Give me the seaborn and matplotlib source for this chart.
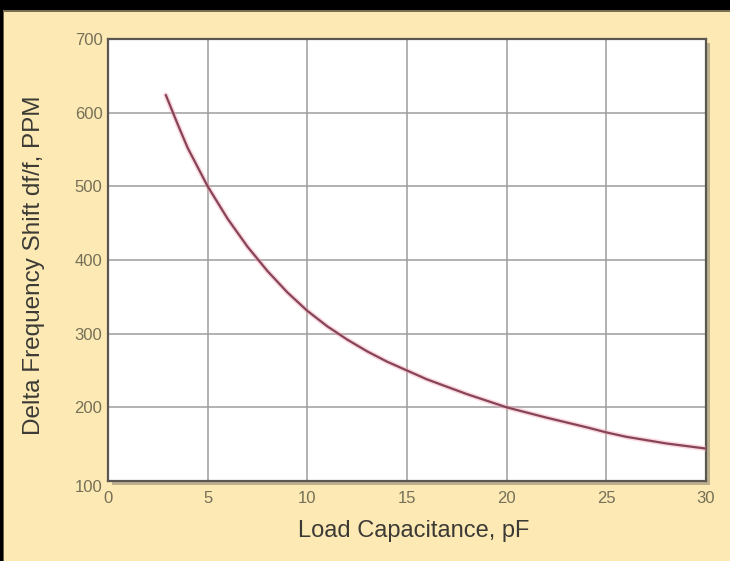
import matplotlib
matplotlib.use("Agg")
import matplotlib.pyplot as plt
import matplotlib.patches as mpatches
import matplotlib.transforms as mtransforms
import seaborn as sns
import pandas as pd

# Data
load_capacitance_pf = [2.9, 3.2, 3.5, 4.0, 5.0, 6.0, 7.0, 8.0, 9.0, 10.0, 11.0,
                       12.0, 13.0, 14.0, 15.0, 16.0, 17.0, 18.0, 19.0, 20.0,
                       22.0, 24.0, 25.0, 26.0, 28.0, 30.0]
delta_shift_ppm = [624, 604, 584, 552, 500, 456, 418, 385, 356, 331, 310,
                   292, 276, 262, 250, 238, 228, 218, 209, 200,
                   186, 173, 166, 160, 151, 144]
x_ticks = [0, 5, 10, 15, 20, 25, 30]
y_ticks = [100, 200, 300, 400, 500, 600, 700]

df = pd.DataFrame({"C": load_capacitance_pf, "S": delta_shift_ppm})

sns.set_theme(style="white")
plt.rcParams['font.family'] = ['Liberation Sans', 'DejaVu Sans']

BG = "#fde9b4"
fig = plt.figure(figsize=(7.30, 5.61), dpi=100, facecolor=BG)

W, H = 730, 561
x0, x1 = 108, 706
y_top, y_bot = 39, 481
ax = fig.add_axes([x0 / W, 1 - y_bot / H, (x1 - x0) / W, (y_bot - y_top) / H])
ax.set_facecolor("white")

# drop shadow behind the plot frame
shadow = mpatches.Rectangle(((x0 + 4) / W, 1 - (y_bot + 4) / H), (x1 - x0) / W,
                            (y_bot - y_top) / H, transform=fig.transFigure,
                            facecolor="#8a8270", edgecolor="none", alpha=0.55,
                            zorder=-1)
fig.patches.append(shadow)

# top black band and left dark strip
fig.patches.append(mpatches.Rectangle((0, 1 - 10 / H), 1, 10 / H,
                                      transform=fig.transFigure,
                                      facecolor="black", edgecolor="none", zorder=5))
fig.patches.append(mpatches.Rectangle((0, 0), 3 / W, 1,
                                      transform=fig.transFigure,
                                      facecolor="black", edgecolor="none", zorder=5))
fig.patches.append(mpatches.Rectangle((3 / W, 0), 1.5 / W, 1 - 10 / H,
                                      transform=fig.transFigure,
                                      facecolor="#6b5f45", edgecolor="none", zorder=5))
fig.patches.append(mpatches.Rectangle((3 / W, 1 - 12 / H), 1 - 3 / W, 2 / H,
                                      transform=fig.transFigure,
                                      facecolor="#7a6e52", edgecolor="none", zorder=5))

# soft halo + curve
sns.lineplot(data=df, x="C", y="S", ax=ax, color="#f2a0b0", linewidth=3.8,
             alpha=0.4, zorder=3)
sns.lineplot(data=df, x="C", y="S", ax=ax, color="#874458", linewidth=1.6,
             zorder=4)

ax.set_xlim(0, 30)
ax.set_ylim(100, 700)
ax.set_xticks(x_ticks)
ax.set_yticks(y_ticks)
ax.grid(True, color="#9c9c9c", linewidth=1.1)
ax.tick_params(axis="both", length=0, labelsize=12, labelcolor="#757058")
ax.tick_params(axis="x", pad=7.5)
ax.tick_params(axis="y", pad=4)
for s in ax.spines.values():
    s.set_color("#5a5750")
    s.set_linewidth(1.6)

# nudge the bottom-left "100" label slightly down as in the reference
ylabels = ax.get_yticklabels()
ylabels[0].set_transform(ylabels[0].get_transform() +
                         mtransforms.ScaledTranslation(0, -5 / 100, fig.dpi_scale_trans))

ax.set_xlabel("Load Capacitance, pF", fontsize=17, color="#3b3a35")
ax.set_ylabel("Delta Frequency Shift df/f, PPM", fontsize=17.5, color="#3b3a35")
ax.xaxis.set_label_coords(0.512, -0.088)
ax.yaxis.set_label_coords(-0.105, 0.489)

fig.savefig("out.png", dpi=100, facecolor=BG)
